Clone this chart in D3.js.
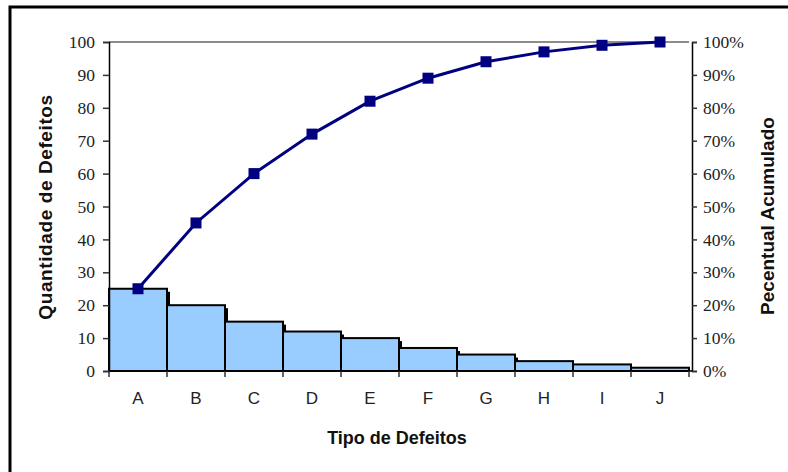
<!DOCTYPE html>
<html><head><meta charset="utf-8">
<script src="https://cdn.jsdelivr.net/npm/d3@7"></script>
<style>body{margin:0;background:#fff}svg{display:block}</style>
</head><body>
<svg id="c" width="788" height="472"></svg>
<script>
const categories = ["A","B","C","D","E","F","G","H","I","J"];
const quantities = [25,20,15,12,10,7,5,3,2,1];
const cumulativePct = [25,45,60,72,82,89,94,97,99,100];
const leftTicks = [0,10,20,30,40,50,60,70,80,90,100];
const rightTicks = [0,10,20,30,40,50,60,70,80,90,100];

const svg = d3.select("#c");
const L = 109, R = 689, T = 42, B = 371;

// outer frame
svg.append("rect").attr("x",10).attr("y",7).attr("width",800).attr("height",500)
  .attr("fill","none").attr("stroke","#000").attr("stroke-width",3);

const x = d3.scaleBand().domain(categories).range([L,R]).padding(0);
const y = d3.scaleLinear().domain([0,100]).range([B,T]);
const y2 = d3.scaleLinear().domain([0,100]).range([B,T]);

// plot top border
svg.append("line").attr("x1",L).attr("x2",R).attr("y1",T).attr("y2",T)
  .attr("stroke","#666").attr("stroke-width",1.5);

// bar shadows
svg.selectAll("rect.sh").data(quantities).join("rect").attr("class","sh")
  .attr("x",(d,i)=>x(categories[i])+3).attr("y",d=>y(d)+3)
  .attr("width",x.bandwidth()).attr("height",d=>B-y(d)-3)
  .attr("fill","#000");
// bars
svg.selectAll("rect.bar").data(quantities).join("rect").attr("class","bar")
  .attr("x",(d,i)=>x(categories[i])).attr("y",d=>y(d))
  .attr("width",x.bandwidth()).attr("height",d=>B-y(d))
  .attr("fill","#99ccff").attr("stroke","#000").attr("stroke-width",2);

// left axis
const gl = svg.append("g").attr("transform",`translate(${L},0)`)
  .call(d3.axisLeft(y).tickValues(leftTicks).tickSize(6).tickPadding(8));
gl.select(".domain").attr("stroke","#000").attr("stroke-width",1.5);
gl.selectAll(".tick line").attr("stroke","#333").attr("stroke-width",1.5);
gl.selectAll("text").attr("font-family","Liberation Serif").attr("font-size",17.5).attr("fill","#222");

// right axis
const gr = svg.append("g").attr("transform",`translate(${R+3},0)`)
  .call(d3.axisRight(y2).tickValues(rightTicks).tickFormat(d=>d+"%").tickSize(5).tickPadding(6));
gr.select(".domain").attr("stroke","#000").attr("stroke-width",1.5);
gr.selectAll(".tick line").attr("stroke","#333").attr("stroke-width",1.5);
gr.selectAll("text").attr("font-family","Liberation Serif").attr("font-size",17.5).attr("fill","#222");

// bottom axis: ticks at category boundaries
const gb = svg.append("g").attr("transform",`translate(0,${B})`);
gb.append("line").attr("x1",L).attr("x2",R+3).attr("y1",0).attr("y2",0).attr("stroke","#000").attr("stroke-width",1.5);
const bounds = categories.map(c=>x(c)).concat([R]);
gb.selectAll("line.tk").data(bounds).join("line").attr("class","tk")
  .attr("x1",d=>d).attr("x2",d=>d).attr("y1",0).attr("y2",6).attr("stroke","#333").attr("stroke-width",1.5);
gb.selectAll("text").data(categories).join("text")
  .attr("x",d=>x(d)+x.bandwidth()/2).attr("y",33).attr("text-anchor","middle")
  .attr("font-family","Liberation Sans").attr("font-size",17).attr("fill","#222").text(d=>d);

// pareto line
const line = d3.line().x((d,i)=>x(categories[i])+x.bandwidth()/2).y(d=>y2(d));
svg.append("path").datum(cumulativePct).attr("d",line).attr("fill","none")
  .attr("stroke","#000080").attr("stroke-width",3);
svg.selectAll("rect.mk").data(cumulativePct).join("rect").attr("class","mk")
  .attr("x",(d,i)=>x(categories[i])+x.bandwidth()/2-5.5).attr("y",d=>y2(d)-5.5)
  .attr("width",11).attr("height",11).attr("fill","#000080");

// titles
svg.append("text").attr("transform","translate(52,207) rotate(-90)").attr("text-anchor","middle")
  .attr("font-family","Liberation Sans").attr("font-weight","bold").attr("font-size",19).attr("fill","#111")
  .attr("letter-spacing",0.6)
  .text("Quantidade de Defeitos");
svg.append("text").attr("transform","translate(774,216) rotate(-90)").attr("text-anchor","middle")
  .attr("font-family","Liberation Sans").attr("font-weight","bold").attr("font-size",19).attr("fill","#111")
  .text("Pecentual Acumulado");
svg.append("text").attr("x",397).attr("y",444).attr("text-anchor","middle")
  .attr("font-family","Liberation Sans").attr("font-weight","bold").attr("font-size",18).attr("fill","#111")
  .text("Tipo de Defeitos");
</script>
</body></html>
